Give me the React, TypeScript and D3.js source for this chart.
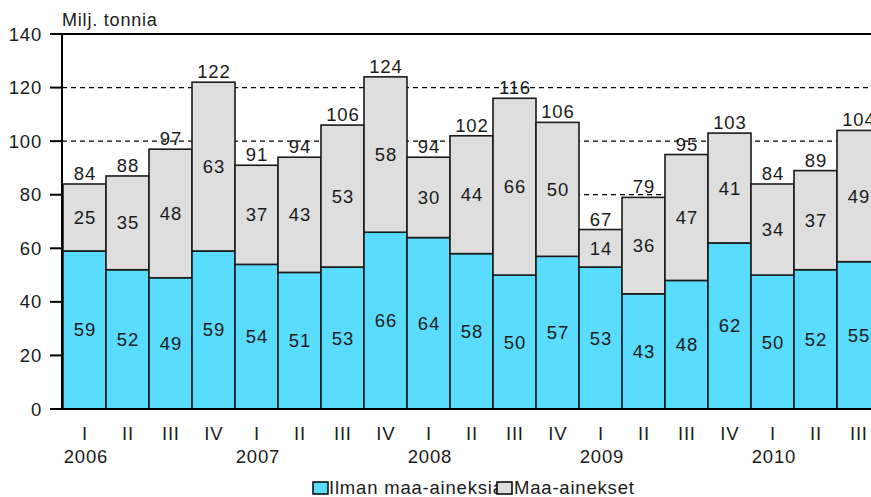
import React from "react";
import * as d3 from "d3";

const quarters = ["I","II","III","IV","I","II","III","IV","I","II","III","IV","I","II","III","IV","I","II","III"];
const yearLabels = [
  { idx: 0, label: "2006" },
  { idx: 4, label: "2007" },
  { idx: 8, label: "2008" },
  { idx: 12, label: "2009" },
  { idx: 16, label: "2010" },
];
const ilman = [59,52,49,59,54,51,53,66,64,58,50,57,53,43,48,62,50,52,55];
const maa = [25,35,48,63,37,43,53,58,30,44,66,50,14,36,47,41,34,37,49];
const totals = [84,88,97,122,91,94,106,124,94,102,116,106,67,79,95,103,84,89,104];
const yTicks = [0,20,40,60,80,100,120,140];
const gridTicks = [20,40,60,80,100,120];
const seriesNames = ["Ilman maa-aineksia", "Maa-ainekset"];

const W = 871, H = 497;
const BLUE = "#5ADCFF";
const GREY = "#DEDEDE";
const FONT = "'Liberation Sans', Arial, sans-serif";
const FS = 18.5;
const LS = 0.8;

export default function App() {
  const x = d3.scaleBand<number>().domain(d3.range(quarters.length)).range([63, 880]).padding(0);
  const y = d3.scaleLinear().domain([0, 140]).range([409, 34]);
  const bw = x.bandwidth();
  const textColor = "#1a1a1a";
  const cx = (i: number) => x(i)! + bw / 2 + LS / 2;

  return (
    <svg width={W} height={H} style={{ position: "absolute", left: 0, top: 0, background: "#fff" }}
      fontFamily={FONT} fontSize={FS} letterSpacing={LS}>
      <text x={62} y={26} fill={textColor} fontSize={18}>Milj. tonnia</text>
      {gridTicks.map(t => (
        <line key={"g" + t} x1={62} x2={W} y1={y(t)} y2={y(t)} stroke="#000" strokeWidth={1.3} strokeDasharray="5,4" />
      ))}
      {ilman.map((v, i) => {
        const x0 = x(i)!;
        const yb = y(v);
        const yt = y(v + maa[i]);
        return (
          <g key={"b" + i}>
            <rect x={x0} y={yb} width={bw} height={y(0) - yb} fill={BLUE} stroke="#1a1a1a" strokeWidth={1.6} />
            <rect x={x0} y={yt} width={bw} height={yb - yt} fill={GREY} stroke="#1a1a1a" strokeWidth={1.6} />
            <text x={cx(i)} y={(yb + y(0)) / 2} textAnchor="middle" dominantBaseline="central" fill={textColor}>{v}</text>
            <text x={cx(i)} y={(yb + yt) / 2} textAnchor="middle" dominantBaseline="central" fill={textColor}>{maa[i]}</text>
            <text x={cx(i)} y={yt - 4} textAnchor="middle" fill={textColor}>{totals[i]}</text>
          </g>
        );
      })}
      {/* axes */}
      <line x1={62} x2={62} y1={34} y2={409} stroke="#000" strokeWidth={2} />
      <line x1={50} x2={W} y1={y(140)} y2={y(140)} stroke="#000" strokeWidth={2} />
      <line x1={50} x2={W} y1={y(0)} y2={y(0)} stroke="#000" strokeWidth={2} />
      {yTicks.map(t => (
        <g key={"t" + t}>
          <line x1={50} x2={62} y1={y(t)} y2={y(t)} stroke="#000" strokeWidth={2} />
          <text x={42} y={y(t)} textAnchor="end" dominantBaseline="central" fill={textColor}>{t}</text>
        </g>
      ))}
      {quarters.map((q, i) => (
        <text key={"q" + i} x={cx(i)} y={433} textAnchor="middle" dominantBaseline="central" fill={textColor}>{q}</text>
      ))}
      {yearLabels.map(yl => (
        <text key={"y" + yl.label} x={cx(yl.idx) + 1} y={456} textAnchor="middle" dominantBaseline="central" fill={textColor}>{yl.label}</text>
      ))}
      {/* legend */}
      <rect x={313} y={482} width={15} height={12} fill={BLUE} stroke="#000" strokeWidth={1.5} />
      <text x={329} y={494} fill={textColor}>{seriesNames[0]}</text>
      <rect x={497} y={482} width={15} height={12} fill={GREY} stroke="#000" strokeWidth={1.5} />
      <text x={514} y={494} fill={textColor}>{seriesNames[1]}</text>
    </svg>
  );
}
